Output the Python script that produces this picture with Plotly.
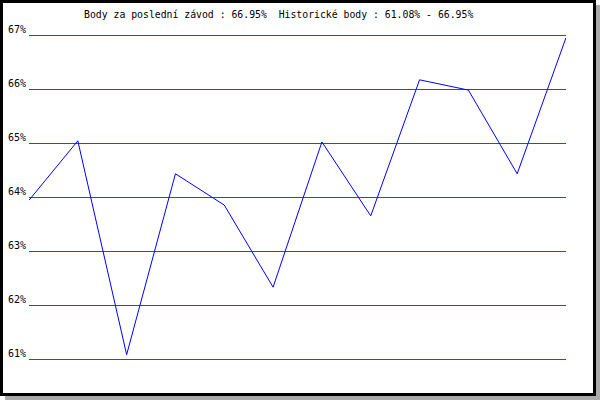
import plotly.graph_objects as go

# race index and points (%) per race
races = list(range(12))
points = [63.94, 65.04, 61.08, 64.43, 63.85, 62.33, 65.02, 63.65, 66.17, 65.98, 64.43, 66.95]
tick_vals = [61, 62, 63, 64, 65, 66, 67]
tick_text = [f'{v}%' for v in tick_vals]
title_text = 'Body za poslední závod : 66.95%  Historické body : 61.08% - 66.95%'

W, H = 600, 400
font_mono = 'DejaVu Sans Mono'


def px_x(p):
    return p / W


def px_y(p):
    return 1 - p / H


fig = go.Figure()
fig.add_trace(go.Scatter(
    x=races, y=points, mode='lines',
    line=dict(color='#0000ff', width=1),
    hoverinfo='skip', showlegend=False,
))

# y: 61 -> 359px, 67 -> 35px (54px per unit), pad 5px each side so edge grid shows
pad = 5 / 54
fig.update_layout(
    width=W, height=H,
    margin=dict(l=0, r=0, t=0, b=0),
    paper_bgcolor='white',
    plot_bgcolor='rgba(0,0,0,0)',
    xaxis=dict(
        domain=[px_x(29), px_x(566)],
        range=[0, 11],
        showgrid=False, zeroline=False, showticklabels=False, showline=False,
    ),
    yaxis=dict(
        domain=[px_y(364), px_y(30)],
        range=[61 - pad, 67 + pad],
        tickmode='array', tickvals=tick_vals, ticktext=tick_text,
        showgrid=True, gridcolor='#ff0000', gridwidth=1,
        zeroline=False, showline=False, automargin=False,
        ticks='', ticklabelstandoff=2, ticklabelshift=-6,
        tickfont=dict(family=font_mono, size=10, color='black'),
    ),
    shapes=[
        # shadow
        dict(type='rect', xref='paper', yref='paper',
             x0=px_x(5), x1=px_x(600), y0=px_y(400), y1=px_y(5),
             fillcolor='#aaaaaa', line=dict(width=0), layer='below'),
        # frame
        dict(type='rect', xref='paper', yref='paper',
             x0=px_x(1.5), x1=px_x(594.5), y0=px_y(394.5), y1=px_y(1.5),
             fillcolor='white', line=dict(color='black', width=3), layer='below'),
    ],
    annotations=[
        dict(text=title_text, xref='paper', yref='paper',
             x=px_x(82), y=px_y(14), xanchor='left', yanchor='middle',
             showarrow=False, font=dict(family=font_mono, size=9.8, color='black')),
    ],
)

fig.write_html('out.html', config={'displayModeBar': False},
               post_script="document.body.style.margin='0';")
